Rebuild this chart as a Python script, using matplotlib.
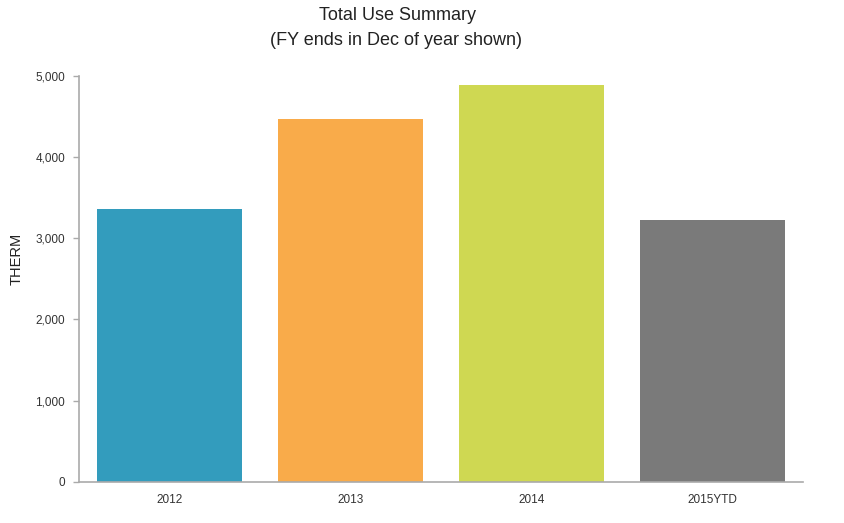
import matplotlib
matplotlib.use('Agg')
import matplotlib.pyplot as plt
from matplotlib.ticker import FuncFormatter

# data
categories = ['2012', '2013', '2014', '2015YTD']
therms = [3358, 4465, 4885, 3220]
bar_colors = ['#339cbd', '#f9ab4a', '#cfd852', '#7a7a7a']
y_ticks = [0, 1000, 2000, 3000, 4000, 5000]

plt.rcParams['font.family'] = ['Liberation Sans', 'DejaVu Sans']

fig = plt.figure(figsize=(8.45, 5.23), dpi=100)
ax = fig.add_axes([0.0935, 0.079, 0.857, 0.776])

ax.bar(range(len(categories)), therms, width=0.8, color=bar_colors,
       edgecolor='none', zorder=2)

ax.set_xlim(-0.5, len(categories) - 0.5)
ax.set_ylim(0, 5000)
ax.set_xticks(range(len(categories)))
ax.set_xticklabels(categories)
ax.set_yticks(y_ticks)
ax.yaxis.set_major_formatter(FuncFormatter(lambda v, p: f'{int(v):,}'))

for side in ('top', 'right'):
    ax.spines[side].set_visible(False)
for side in ('left', 'bottom'):
    ax.spines[side].set_color('#aaaaaa')
    ax.spines[side].set_linewidth(1.2)
ax.spines['bottom'].set_zorder(3)

ax.tick_params(axis='x', length=0, pad=9, labelsize=8.5, labelcolor='#333333')
ax.tick_params(axis='y', length=4, width=1, color='#aaaaaa', pad=6,
               labelsize=8.5, labelcolor='#333333')

ax.set_ylabel('THERM', fontsize=10.5, color='#222222')
ax.yaxis.set_label_coords(-0.077, 0.55)

fig.text(0.470, 0.971, 'Total Use Summary', ha='center', va='center',
         fontsize=13, color='#222222')
fig.text(0.469, 0.923, '(FY ends in Dec of year shown)', ha='center',
         va='center', fontsize=13, color='#222222')

fig.savefig('out.png', dpi=100)
